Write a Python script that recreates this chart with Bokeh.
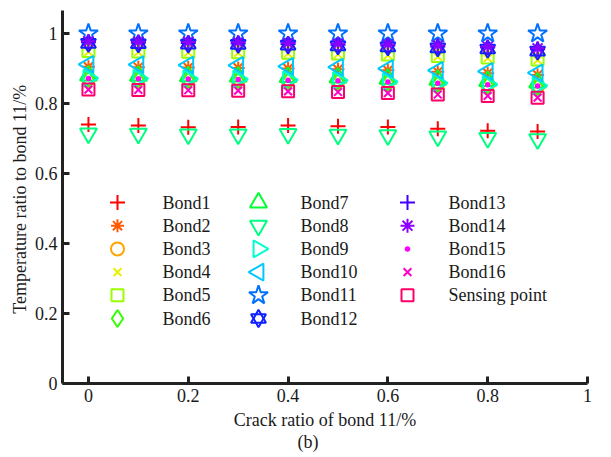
import numpy as np
from bokeh.plotting import figure
from bokeh.models import FixedTicker, Range1d, Title
from bokeh.core.properties import value
from bokeh.embed import file_html
from bokeh.resources import INLINE

crack = [0.0, 0.1, 0.2, 0.3, 0.4, 0.5, 0.6, 0.7, 0.8, 0.9]

bond1 = [0.740, 0.737, 0.732, 0.733, 0.737, 0.735, 0.733, 0.728, 0.722, 0.720]
bond2 = [0.905, 0.904, 0.903, 0.902, 0.900, 0.898, 0.895, 0.891, 0.887, 0.882]
bond3 = [0.870, 0.869, 0.868, 0.867, 0.866, 0.864, 0.861, 0.857, 0.853, 0.849]
bond4 = [0.948, 0.947, 0.946, 0.945, 0.943, 0.941, 0.938, 0.934, 0.930, 0.924]
bond5 = [0.950, 0.949, 0.948, 0.947, 0.945, 0.943, 0.940, 0.936, 0.932, 0.926]
bond6 = [0.868, 0.867, 0.866, 0.865, 0.864, 0.862, 0.859, 0.855, 0.851, 0.847]
bond7 = [0.880, 0.879, 0.878, 0.877, 0.876, 0.874, 0.871, 0.868, 0.864, 0.860]
bond8 = [0.715, 0.714, 0.712, 0.712, 0.713, 0.711, 0.710, 0.706, 0.702, 0.698]
bond9 = [0.873, 0.872, 0.871, 0.870, 0.868, 0.866, 0.863, 0.859, 0.855, 0.851]
bond10 = [0.912, 0.911, 0.910, 0.909, 0.906, 0.904, 0.900, 0.895, 0.892, 0.888]
bond11 = [1.000, 1.000, 1.000, 1.000, 1.000, 1.000, 1.000, 1.000, 1.000, 1.000]
bond12 = [0.972, 0.971, 0.970, 0.969, 0.967, 0.965, 0.962, 0.959, 0.956, 0.950]
bond13 = [0.975, 0.974, 0.973, 0.972, 0.970, 0.968, 0.966, 0.963, 0.960, 0.955]
bond14 = [0.978, 0.977, 0.976, 0.975, 0.973, 0.971, 0.969, 0.966, 0.963, 0.958]
bond15 = [0.872, 0.871, 0.870, 0.869, 0.867, 0.865, 0.862, 0.858, 0.854, 0.850]
bond16 = [0.840, 0.839, 0.838, 0.837, 0.835, 0.833, 0.830, 0.826, 0.822, 0.817]
sensing = [0.840, 0.839, 0.838, 0.837, 0.835, 0.833, 0.830, 0.826, 0.822, 0.817]

labels = ["Bond1", "Bond2", "Bond3", "Bond4", "Bond5", "Bond6", "Bond7", "Bond8",
          "Bond9", "Bond10", "Bond11", "Bond12", "Bond13", "Bond14", "Bond15",
          "Bond16", "Sensing point"]
series = [bond1, bond2, bond3, bond4, bond5, bond6, bond7, bond8, bond9, bond10,
          bond11, bond12, bond13, bond14, bond15, bond16, sensing]
colors = ["#ff0000", "#ff5a00", "#ffa500", "#e8f000", "#99ff00", "#33ff00",
          "#00ff33", "#00ff80", "#00ffd0", "#00c8ff", "#0070ff", "#1020ff",
          "#4000ff", "#8c00ff", "#ff00ff", "#ff00c8", "#ff0066"]
# marker style per series: (marker, size, angle)
styles = [("cross", 15, 0), ("asterisk", 13, 0), ("circle", 13, 0), ("x", 11, 0),
          ("square", 12, 0), ("diamond", 17, 0), ("triangle", 17, 0),
          ("inverted_triangle", 17, 0), ("triangle", 17, -np.pi / 2),
          ("triangle", 17, np.pi / 2), ("star", 20, 0), ("hexagram", 15, 0),
          ("cross", 15, 0), ("asterisk", 14, 0), ("dot", 22, 0), ("x", 11, 0),
          ("square", 12, 0)]

x_ticks = [0, 0.2, 0.4, 0.6, 0.8, 1]
y_ticks = [0, 0.2, 0.4, 0.6, 0.8, 1]

FONT = "Liberation Serif"
FS = "18px"
INK = "#1a1a1a"
FW, FH = 525, 373

p = figure(frame_width=FW, frame_height=FH, output_backend="svg", toolbar_location=None,
           x_range=(-0.052, 1.0), y_range=(0, 1.066),
           min_border_left=62, min_border_right=24, min_border_top=10, min_border_bottom=74)
p.outline_line_color = None
p.grid.grid_line_color = None
# pixel-based helper ranges for the legend block
p.extra_x_ranges = {"leg": Range1d(0, FW)}
p.extra_y_ranges = {"leg": Range1d(0, FH)}

for ax in (p.xaxis[0], p.yaxis[0]):
    ax.axis_line_width = 3
    ax.axis_line_color = "#222222"
    ax.major_tick_in = 7
    ax.major_tick_out = 0
    ax.major_tick_line_width = 3
    ax.major_tick_line_color = "#222222"
    ax.minor_tick_line_color = None
    ax.major_label_text_font = FONT
    ax.major_label_text_font_size = FS
    ax.major_label_text_color = INK
    ax.axis_label_text_font = FONT
    ax.axis_label_text_font_size = FS
    ax.axis_label_text_font_style = "normal"
    ax.axis_label_text_color = INK

p.xaxis.ticker = FixedTicker(ticks=x_ticks)
p.yaxis.ticker = FixedTicker(ticks=y_ticks)
p.xaxis.major_label_overrides = {0: "0", 1: "1"}
p.yaxis.major_label_overrides = {0: "0", 1: "1"}
p.xaxis.axis_label = "Crack ratio of bond 11/%"
p.yaxis.axis_label = "Temperature ratio to  bond 11/%"
p.xaxis.major_label_standoff = 5
p.xaxis.axis_label_standoff = 5
p.yaxis.major_label_standoff = 5
p.yaxis.axis_label_standoff = 2

# sub-figure caption below the axis label
p.add_layout(Title(text="(b)", align="left", offset=235, standoff=-5, text_font=FONT,
                   text_font_size=FS, text_font_style="normal", text_color=INK), "below")


def draw(xs, ys, col, style, xr="default", yr="default"):
    marker, size, angle = style
    kw = dict(x_range_name=xr, y_range_name=yr)
    if marker == "hexagram":
        p.scatter(x=xs, y=ys, marker="triangle", size=size, line_color=col,
                  fill_color=None, line_width=2, **kw)
        p.scatter(x=xs, y=ys, marker="inverted_triangle", size=size, line_color=col,
                  fill_color=None, line_width=2, **kw)
    elif marker == "dot":
        p.scatter(x=xs, y=ys, marker="dot", size=size, line_color=col,
                  fill_color=col, line_width=1, **kw)
    else:
        p.scatter(x=xs, y=ys, marker=marker, size=size, angle=angle, line_color=col,
                  fill_color=None, line_width=2, **kw)


for ys, col, st in zip(series, colors, styles):
    draw(crack, ys, col, st)

# legend block: three columns, six rows max (positions in frame pixels)
key_x = [55, 196, 345]
text_x = [100, 238, 386]
row0, pitch = 181, 23.2
tx, ty, tt = [], [], []
for k, (lab, col, st) in enumerate(zip(labels, colors, styles)):
    c, r = divmod(k, 6)
    yy = row0 - pitch * r
    draw([key_x[c]], [yy], col, st, "leg", "leg")
    tx.append(text_x[c]); ty.append(yy); tt.append(lab)

p.text(x=tx, y=ty, text=tt, x_range_name="leg", y_range_name="leg",
       text_font=value(FONT), text_font_size=FS, text_color=INK,
       text_align="left", text_baseline="middle")

open("out.html", "w").write(file_html(p, INLINE))
